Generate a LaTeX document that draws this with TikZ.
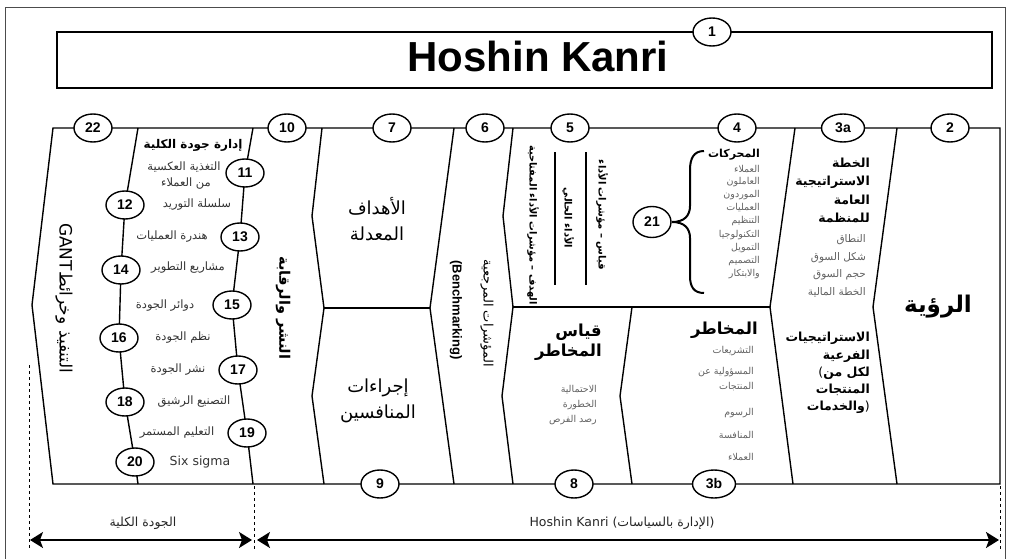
\documentclass[tikz,border=0pt]{standalone}
\usepackage{fontspec}
\setmainfont{Liberation Sans}
\newfontfamily\arfont[Script=Arabic]{DejaVu Sans}
\newfontfamily\dvfont{DejaVu Sans}
\TeXXeTstate=1
\usetikzlibrary{shapes.geometric,arrows.meta}
\newcommand\artx[1]{\beginR #1\endR}
\newcommand\lp{\mbox{\dvfont\mdseries(}}
\newcommand\rp{\mbox{\dvfont\mdseries)}}
\tikzset{
 ln/.style={line width=1.4pt, line join=miter},
 num/.style={ellipse, draw, line width=1.4pt, fill=white, minimum width=38pt, minimum height=28pt, inner sep=0pt, font=\bfseries\fontsize{14}{14}\selectfont},
 numw/.style={num, minimum width=43pt},
 ql/.style={font=\arfont\fontsize{11.5}{13}\selectfont, text=black!80, inner sep=0pt},
 qh/.style={font=\arfont\bfseries\fontsize{12}{13}\selectfont, inner sep=0pt},
 hd/.style={font=\arfont\bfseries\fontsize{12.5}{14}\selectfont, anchor=east, inner sep=0pt},
 hdb/.style={font=\arfont\bfseries\fontsize{16.5}{18}\selectfont, anchor=east, inner sep=0pt},
 it/.style={font=\arfont\fontsize{9.5}{11}\selectfont, text=black!62, anchor=east, inner sep=0pt},
 vt/.style={rotate=-90, inner sep=0pt},
 big/.style={font=\arfont\fontsize{18}{26}\selectfont, align=center, inner sep=0pt},
 dotl/.style={dash pattern=on 3pt off 3pt, line width=1pt},
 arr/.style={{Stealth[length=13pt,width=16pt,inset=3pt]}-{Stealth[length=13pt,width=16pt,inset=3pt]}, line width=1.6pt},
 bt/.style={font=\arfont\fontsize{12.5}{14}\selectfont, text=black!85, inner sep=0pt}
}
\begin{document}
\begin{tikzpicture}[x=1pt,y=-1pt]
\useasboundingbox (0,0) rectangle (1009,559);
% outer frame
\draw[line width=0.8pt, black!70] (5,559) -- (5,7) -- (1005,7) -- (1005,559);
% title
\draw[line width=1.6pt] (57,32) rectangle (992,88);
\node[anchor=base, font=\bfseries\fontsize{42}{42}\selectfont, inner sep=0pt] (title) at (538,72) {Hoshin Kanri};
\node[num] (n1) at (712,32) {1};
% main outline
\draw[ln] (53,128) -- (1000,128) -- (1000,484) -- (53,484) -- (32,305) -- cycle;
% quality lines
\draw[ln] (138,128) -- (125,205) -- (121,270) -- (119,338) -- (125,402) -- (135,462) -- (138,484);
\draw[ln] (253,128) -- (245,173) -- (240,237) -- (232,305) -- (238,370) -- (247,433) -- (253,484);
% column boundaries
\draw[ln] (322,128) -- (312,216) -- (324,308) -- (312,396) -- (324,484);
\draw[ln] (324,308) -- (430,308);
\draw[ln] (454,128) -- (430,308) -- (454,484);
\draw[ln] (513,128) -- (503,216) -- (513,307) -- (502,396) -- (513,484);
\draw[ln] (513,307) -- (770,307);
\draw[ln] (632,307) -- (620,396) -- (632,484);
\draw[ln] (795,128) -- (770,307) -- (793,484);
\draw[ln] (897,128) -- (873,307) -- (897,484);
% col 5 bars
\draw[line width=1.6pt] (555,152) -- (555,285);
\draw[line width=1.6pt] (586,152) -- (586,285);
% brace
\draw[line width=2pt] (704,151) .. controls (694,151) and (690,158) .. (690,170) -- (690,206) .. controls (690,216) and (684,222) .. (672,222) .. controls (684,222) and (690,228) .. (690,238) -- (690,276) .. controls (690,287) and (694,293) .. (704,293);
% circles top
\node[num] (n22) at (93,128) {22};
\node[num] (n10) at (287,128) {10};
\node[num] (n7) at (392,128) {7};
\node[num] (n6) at (485,128) {6};
\node[num] (n5) at (570,128) {5};
\node[num] (n4) at (737,128) {4};
\node[numw] (n3a) at (843,128) {3a};
\node[num] (n2) at (950,128) {2};
% circles bottom
\node[num] (n9) at (380,484) {9};
\node[num] (n8) at (574,484) {8};
\node[numw] (n3b) at (714,484) {3b};
% quality circles
\node[num] (n11) at (245,173) {11};
\node[num] (n12) at (125,205) {12};
\node[num] (n13) at (240,237) {13};
\node[num] (n14) at (121,270) {14};
\node[num] (n15) at (232,305) {15};
\node[num] (n16) at (119,338) {16};
\node[num] (n17) at (238,370) {17};
\node[num] (n18) at (125,402) {18};
\node[num] (n19) at (247,433) {19};
\node[num] (n20) at (135,462) {20};
\node[num, minimum height=31pt] (n21) at (652,222) {21};
% col 22
\node[vt, font=\arfont\fontsize{17}{17}\selectfont] (t22) at (64,298) {\beginR التنفيذ وخرائط\beginL GANT\endL\endR};
% quality list
\node[qh] (qh) at (193,145) {\artx{إدارة جودة الكلية}};
\node[ql] (q1) at (184,167) {\artx{التغذية العكسية}};
\node[ql] (q2) at (186,184) {\artx{من العملاء}};
\node[ql] (q3) at (197,205) {\artx{سلسلة التوريد}};
\node[ql] (q4) at (172,237) {\artx{هندرة العمليات}};
\node[ql] (q5) at (188,268) {\artx{مشاريع التطوير}};
\node[ql] (q6) at (165,306) {\artx{دوائر الجودة}};
\node[ql] (q7) at (183,338) {\artx{نظم الجودة}};
\node[ql] (q8) at (178,370) {\artx{نشر الجودة}};
\node[ql] (q9) at (194,402) {\artx{التصنيع الرشيق}};
\node[ql] (q10) at (177,433) {\artx{التعليم المستمر}};
\node[ql, font=\dvfont\fontsize{12.5}{13}\selectfont] (q11) at (200,462) {Six sigma};
% col 10
\node[vt, font=\arfont\bfseries\fontsize{14.5}{15}\selectfont] (t10) at (283,308) {\artx{النشر والرقابة}};
% col 7
\node[big] (t7a) at (377,219) {\artx{الأهداف}\\\artx{المعدلة}};
\node[big] (t7b) at (378,401) {\artx{إجراءات}\\\artx{المنافسين}};
% col 6
\node[vt, font=\bfseries\fontsize{13}{13}\selectfont] (t6a) at (456,310) {(Benchmarking)};
\node[vt, font=\arfont\fontsize{13}{13}\selectfont] (t6b) at (487,313) {\artx{المؤشرات المرجعية}};
% col 5
\node[vt, font=\arfont\bfseries\fontsize{9.8}{11}\selectfont] (t5a) at (533,225) {\artx{الهدف – مؤشرات الأداء المفتاحية}};
\node[vt, font=\arfont\bfseries\fontsize{10}{11}\selectfont] (t5b) at (568,218) {\artx{الأداء الحالي}};
\node[vt, font=\arfont\bfseries\fontsize{10}{11}\selectfont] (t5c) at (602,215) {\artx{قياس – مؤشرات الأداء}};
% col 4
\node[hd, font=\arfont\bfseries\fontsize{11}{12}\selectfont] (t4h) at (760,155) {\artx{المحركات}};
\foreach \yy/\tt [count=\i] in {169/العملاء,182/العاملون,195/الموردون,208/العمليات,221.5/التنظيم,235/التكنولوجيا,248/التمويل,261/التصميم,274/والابتكار}
  \node[it] (t4i\i) at (760,\yy) {\artx{\tt}};
% col 3a
\foreach \yy/\tt [count=\i] in {163/الخطة,182/الاستراتيجية,200/العامة,218/للمنظمة}
  \node[hd] (t3h\i) at (870,\yy) {\artx{\tt}};
\foreach \yy/\tt [count=\i] in {240/النطاق,258/شكل السوق,275/حجم السوق,292/الخطة المالية}
  \node[it, font=\arfont\fontsize{10.5}{12}\selectfont] (t3i\i) at (866,\yy) {\artx{\tt}};
\node[hd] (t3s1) at (870,338) {\artx{الاستراتيجيات}};
\node[hd] (t3s2) at (870,356) {\artx{الفرعية}};
\node[hd] (t3s3) at (870,373) {\lp\artx{لكل من}};
\node[hd] (t3s4) at (870,390) {\artx{المنتجات}};
\node[hd] (t3s5) at (870,407) {\artx{والخدمات}\rp};
% col 2
\node[font=\arfont\bfseries\fontsize{23}{24}\selectfont, inner sep=0pt] (t2) at (938,307) {\artx{الرؤية}};
% col 8
\node[hdb] (t8a) at (602,332) {\artx{قياس}};
\node[hdb] (t8b) at (602,352) {\artx{المخاطر}};
\foreach \yy/\tt [count=\i] in {390/الاحتمالية,405/الخطورة,420/رصد الفرص}
  \node[it] (t8i\i) at (597,\yy) {\artx{\tt}};
% col 3b
\node[hdb] (t3bh) at (758,330) {\artx{المخاطر}};
\foreach \yy/\tt [count=\i] in {351/التشريعات,372/المسؤولية عن,387/المنتجات,413/الرسوم,435/المنافسة,457/العملاء}
  \node[it] (t3bi\i) at (754,\yy) {\artx{\tt}};
% bottom
\coordinate (dA1) at (29,365); \coordinate (dA2) at (29,550);
\coordinate (dB1) at (254,486); \coordinate (dB2) at (254,550);
\coordinate (dC1) at (1000,486); \coordinate (dC2) at (1000,550);
\draw[dotl] (dA1) -- (dA2);
\draw[dotl] (dB1) -- (dB2);
\draw[dotl] (dC1) -- (dC2);
\coordinate (a1) at (30,540); \coordinate (a2) at (252,540);
\coordinate (a3) at (257,540); \coordinate (a4) at (999,540);
\draw[arr] (a1) -- (a2);
\draw[arr] (a3) -- (a4);
\node[bt] (b1) at (143,523) {\artx{الجودة الكلية}};
\node[bt] (b2) at (622,523) {{\dvfont Hoshin Kanri }\lp\artx{الإدارة بالسياسات}\rp};
\end{tikzpicture}
\end{document}
